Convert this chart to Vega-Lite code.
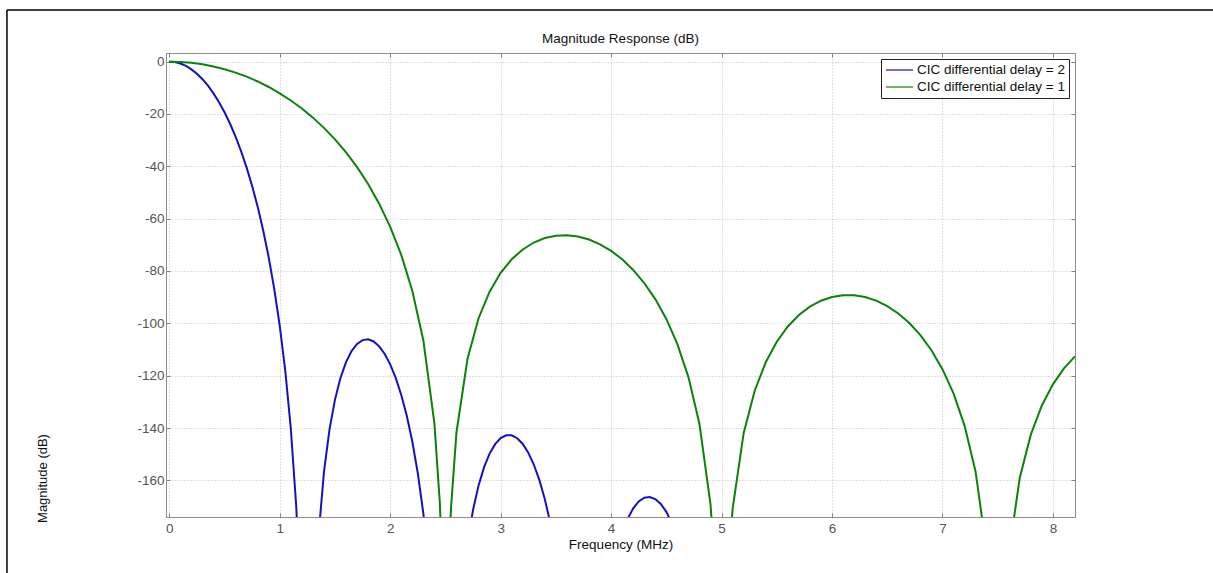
{
  "$schema": "https://vega.github.io/schema/vega-lite/v6.json",
  "width": 909,
  "height": 464,
  "autosize": {"type": "none"},
  "padding": {"left": 166, "top": 53, "right": 138, "bottom": 56},
  "background": "white",
  "config": {
    "font": "Liberation Sans",
    "view": {"stroke": "#8c8c8c", "strokeWidth": 1},
    "legend": {"labelFontSize": 13.5, "labelFont": "Liberation Sans"}
  },
  "title": {"text": "Magnitude Response (dB)", "fontSize": 13.5, "fontWeight": "normal", "color": "#111111", "offset": -36, "anchor": "middle", "font": "Liberation Sans"},
  "datasets": {
    "cic": [
      {"freq": 0, "mag": 0, "series": "CIC differential delay = 2"},
      {"freq": 0.05, "mag": -0.18, "series": "CIC differential delay = 2"},
      {"freq": 0.1, "mag": -0.73, "series": "CIC differential delay = 2"},
      {"freq": 0.15, "mag": -1.65, "series": "CIC differential delay = 2"},
      {"freq": 0.2, "mag": -2.95, "series": "CIC differential delay = 2"},
      {"freq": 0.25, "mag": -4.63, "series": "CIC differential delay = 2"},
      {"freq": 0.3, "mag": -6.71, "series": "CIC differential delay = 2"},
      {"freq": 0.35, "mag": -9.2, "series": "CIC differential delay = 2"},
      {"freq": 0.4, "mag": -12.13, "series": "CIC differential delay = 2"},
      {"freq": 0.45, "mag": -15.5, "series": "CIC differential delay = 2"},
      {"freq": 0.5, "mag": -19.36, "series": "CIC differential delay = 2"},
      {"freq": 0.55, "mag": -23.74, "series": "CIC differential delay = 2"},
      {"freq": 0.6, "mag": -28.68, "series": "CIC differential delay = 2"},
      {"freq": 0.65, "mag": -34.24, "series": "CIC differential delay = 2"},
      {"freq": 0.7, "mag": -40.5, "series": "CIC differential delay = 2"},
      {"freq": 0.75, "mag": -47.54, "series": "CIC differential delay = 2"},
      {"freq": 0.8, "mag": -55.48, "series": "CIC differential delay = 2"},
      {"freq": 0.85, "mag": -64.5, "series": "CIC differential delay = 2"},
      {"freq": 0.9, "mag": -74.83, "series": "CIC differential delay = 2"},
      {"freq": 0.95, "mag": -86.81, "series": "CIC differential delay = 2"},
      {"freq": 1.0, "mag": -100.97, "series": "CIC differential delay = 2"},
      {"freq": 1.05, "mag": -118.18, "series": "CIC differential delay = 2"},
      {"freq": 1.1, "mag": -140.1, "series": "CIC differential delay = 2"},
      {"freq": 1.15, "mag": -170.44, "series": "CIC differential delay = 2"},
      {"freq": 1.2, "mag": -221, "series": "CIC differential delay = 2"},
      {"freq": 1.3, "mag": -226.6, "series": "CIC differential delay = 2"},
      {"freq": 1.35, "mag": -181.58, "series": "CIC differential delay = 2"},
      {"freq": 1.4, "mag": -156.86, "series": "CIC differential delay = 2"},
      {"freq": 1.45, "mag": -140.61, "series": "CIC differential delay = 2"},
      {"freq": 1.5, "mag": -129.14, "series": "CIC differential delay = 2"},
      {"freq": 1.55, "mag": -120.82, "series": "CIC differential delay = 2"},
      {"freq": 1.6, "mag": -114.82, "series": "CIC differential delay = 2"},
      {"freq": 1.65, "mag": -110.59, "series": "CIC differential delay = 2"},
      {"freq": 1.7, "mag": -107.86, "series": "CIC differential delay = 2"},
      {"freq": 1.75, "mag": -106.41, "series": "CIC differential delay = 2"},
      {"freq": 1.8, "mag": -106.12, "series": "CIC differential delay = 2"},
      {"freq": 1.85, "mag": -106.92, "series": "CIC differential delay = 2"},
      {"freq": 1.9, "mag": -108.78, "series": "CIC differential delay = 2"},
      {"freq": 1.95, "mag": -111.69, "series": "CIC differential delay = 2"},
      {"freq": 2.0, "mag": -115.69, "series": "CIC differential delay = 2"},
      {"freq": 2.05, "mag": -120.86, "series": "CIC differential delay = 2"},
      {"freq": 2.1, "mag": -127.35, "series": "CIC differential delay = 2"},
      {"freq": 2.15, "mag": -135.34, "series": "CIC differential delay = 2"},
      {"freq": 2.2, "mag": -145.16, "series": "CIC differential delay = 2"},
      {"freq": 2.25, "mag": -157.31, "series": "CIC differential delay = 2"},
      {"freq": 2.3, "mag": -172.66, "series": "CIC differential delay = 2"},
      {"freq": 2.35, "mag": -192.85, "series": "CIC differential delay = 2"},
      {"freq": 2.4, "mag": -221.57, "series": "CIC differential delay = 2"},
      {"freq": 2.6, "mag": -227.13, "series": "CIC differential delay = 2"},
      {"freq": 2.65, "mag": -201.2, "series": "CIC differential delay = 2"},
      {"freq": 2.7, "mag": -183.8, "series": "CIC differential delay = 2"},
      {"freq": 2.75, "mag": -171.26, "series": "CIC differential delay = 2"},
      {"freq": 2.8, "mag": -161.92, "series": "CIC differential delay = 2"},
      {"freq": 2.85, "mag": -154.93, "series": "CIC differential delay = 2"},
      {"freq": 2.9, "mag": -149.78, "series": "CIC differential delay = 2"},
      {"freq": 2.95, "mag": -146.16, "series": "CIC differential delay = 2"},
      {"freq": 3.0, "mag": -143.86, "series": "CIC differential delay = 2"},
      {"freq": 3.05, "mag": -142.77, "series": "CIC differential delay = 2"},
      {"freq": 3.1, "mag": -142.79, "series": "CIC differential delay = 2"},
      {"freq": 3.15, "mag": -143.9, "series": "CIC differential delay = 2"},
      {"freq": 3.2, "mag": -146.1, "series": "CIC differential delay = 2"},
      {"freq": 3.25, "mag": -149.43, "series": "CIC differential delay = 2"},
      {"freq": 3.3, "mag": -153.95, "series": "CIC differential delay = 2"},
      {"freq": 3.35, "mag": -159.81, "series": "CIC differential delay = 2"},
      {"freq": 3.4, "mag": -167.19, "series": "CIC differential delay = 2"},
      {"freq": 3.45, "mag": -176.42, "series": "CIC differential delay = 2"},
      {"freq": 3.5, "mag": -188.01, "series": "CIC differential delay = 2"},
      {"freq": 3.55, "mag": -202.82, "series": "CIC differential delay = 2"},
      {"freq": 3.6, "mag": -222.49, "series": "CIC differential delay = 2"},
      {"freq": 3.9, "mag": -228.05, "series": "CIC differential delay = 2"},
      {"freq": 3.95, "mag": -210.24, "series": "CIC differential delay = 2"},
      {"freq": 4.0, "mag": -197.29, "series": "CIC differential delay = 2"},
      {"freq": 4.05, "mag": -187.57, "series": "CIC differential delay = 2"},
      {"freq": 4.1, "mag": -180.2, "series": "CIC differential delay = 2"},
      {"freq": 4.15, "mag": -174.69, "series": "CIC differential delay = 2"},
      {"freq": 4.2, "mag": -170.7, "series": "CIC differential delay = 2"},
      {"freq": 4.25, "mag": -168.06, "series": "CIC differential delay = 2"},
      {"freq": 4.3, "mag": -166.63, "series": "CIC differential delay = 2"},
      {"freq": 4.35, "mag": -166.34, "series": "CIC differential delay = 2"},
      {"freq": 4.4, "mag": -167.13, "series": "CIC differential delay = 2"},
      {"freq": 4.45, "mag": -169.02, "series": "CIC differential delay = 2"},
      {"freq": 4.5, "mag": -172.04, "series": "CIC differential delay = 2"},
      {"freq": 4.55, "mag": -176.27, "series": "CIC differential delay = 2"},
      {"freq": 4.6, "mag": -181.84, "series": "CIC differential delay = 2"},
      {"freq": 0, "mag": 0, "series": "CIC differential delay = 1"},
      {"freq": 0.1, "mag": -0.11, "series": "CIC differential delay = 1"},
      {"freq": 0.2, "mag": -0.46, "series": "CIC differential delay = 1"},
      {"freq": 0.3, "mag": -1.03, "series": "CIC differential delay = 1"},
      {"freq": 0.4, "mag": -1.84, "series": "CIC differential delay = 1"},
      {"freq": 0.5, "mag": -2.9, "series": "CIC differential delay = 1"},
      {"freq": 0.6, "mag": -4.2, "series": "CIC differential delay = 1"},
      {"freq": 0.7, "mag": -5.75, "series": "CIC differential delay = 1"},
      {"freq": 0.8, "mag": -7.58, "series": "CIC differential delay = 1"},
      {"freq": 0.9, "mag": -9.69, "series": "CIC differential delay = 1"},
      {"freq": 1.0, "mag": -12.1, "series": "CIC differential delay = 1"},
      {"freq": 1.1, "mag": -14.84, "series": "CIC differential delay = 1"},
      {"freq": 1.2, "mag": -17.92, "series": "CIC differential delay = 1"},
      {"freq": 1.3, "mag": -21.4, "series": "CIC differential delay = 1"},
      {"freq": 1.4, "mag": -25.31, "series": "CIC differential delay = 1"},
      {"freq": 1.5, "mag": -29.71, "series": "CIC differential delay = 1"},
      {"freq": 1.6, "mag": -34.68, "series": "CIC differential delay = 1"},
      {"freq": 1.7, "mag": -40.32, "series": "CIC differential delay = 1"},
      {"freq": 1.8, "mag": -46.77, "series": "CIC differential delay = 1"},
      {"freq": 1.9, "mag": -54.26, "series": "CIC differential delay = 1"},
      {"freq": 2.0, "mag": -63.11, "series": "CIC differential delay = 1"},
      {"freq": 2.1, "mag": -73.86, "series": "CIC differential delay = 1"},
      {"freq": 2.2, "mag": -87.57, "series": "CIC differential delay = 1"},
      {"freq": 2.3, "mag": -106.53, "series": "CIC differential delay = 1"},
      {"freq": 2.4, "mag": -138.14, "series": "CIC differential delay = 1"},
      {"freq": 2.45, "mag": -169.05, "series": "CIC differential delay = 1"},
      {"freq": 2.475, "mag": -199.57, "series": "CIC differential delay = 1"},
      {"freq": 2.525, "mag": -200.44, "series": "CIC differential delay = 1"},
      {"freq": 2.55, "mag": -170.79, "series": "CIC differential delay = 1"},
      {"freq": 2.6, "mag": -141.61, "series": "CIC differential delay = 1"},
      {"freq": 2.7, "mag": -113.49, "series": "CIC differential delay = 1"},
      {"freq": 2.8, "mag": -98.04, "series": "CIC differential delay = 1"},
      {"freq": 2.9, "mag": -87.88, "series": "CIC differential delay = 1"},
      {"freq": 3.0, "mag": -80.71, "series": "CIC differential delay = 1"},
      {"freq": 3.1, "mag": -75.52, "series": "CIC differential delay = 1"},
      {"freq": 3.2, "mag": -71.76, "series": "CIC differential delay = 1"},
      {"freq": 3.3, "mag": -69.12, "series": "CIC differential delay = 1"},
      {"freq": 3.4, "mag": -67.41, "series": "CIC differential delay = 1"},
      {"freq": 3.5, "mag": -66.51, "series": "CIC differential delay = 1"},
      {"freq": 3.6, "mag": -66.33, "series": "CIC differential delay = 1"},
      {"freq": 3.7, "mag": -66.83, "series": "CIC differential delay = 1"},
      {"freq": 3.8, "mag": -67.99, "series": "CIC differential delay = 1"},
      {"freq": 3.9, "mag": -69.81, "series": "CIC differential delay = 1"},
      {"freq": 4.0, "mag": -72.31, "series": "CIC differential delay = 1"},
      {"freq": 4.1, "mag": -75.54, "series": "CIC differential delay = 1"},
      {"freq": 4.2, "mag": -79.6, "series": "CIC differential delay = 1"},
      {"freq": 4.3, "mag": -84.59, "series": "CIC differential delay = 1"},
      {"freq": 4.4, "mag": -90.73, "series": "CIC differential delay = 1"},
      {"freq": 4.5, "mag": -98.32, "series": "CIC differential delay = 1"},
      {"freq": 4.6, "mag": -107.92, "series": "CIC differential delay = 1"},
      {"freq": 4.7, "mag": -120.53, "series": "CIC differential delay = 1"},
      {"freq": 4.8, "mag": -138.48, "series": "CIC differential delay = 1"},
      {"freq": 4.9, "mag": -169.14, "series": "CIC differential delay = 1"},
      {"freq": 4.95, "mag": -199.6, "series": "CIC differential delay = 1"},
      {"freq": 5.05, "mag": -200.46, "series": "CIC differential delay = 1"},
      {"freq": 5.1, "mag": -170.88, "series": "CIC differential delay = 1"},
      {"freq": 5.2, "mag": -141.96, "series": "CIC differential delay = 1"},
      {"freq": 5.3, "mag": -125.75, "series": "CIC differential delay = 1"},
      {"freq": 5.4, "mag": -114.88, "series": "CIC differential delay = 1"},
      {"freq": 5.5, "mag": -107.04, "series": "CIC differential delay = 1"},
      {"freq": 5.6, "mag": -101.2, "series": "CIC differential delay = 1"},
      {"freq": 5.7, "mag": -96.83, "series": "CIC differential delay = 1"},
      {"freq": 5.8, "mag": -93.62, "series": "CIC differential delay = 1"},
      {"freq": 5.9, "mag": -91.35, "series": "CIC differential delay = 1"},
      {"freq": 6.0, "mag": -89.92, "series": "CIC differential delay = 1"},
      {"freq": 6.1, "mag": -89.23, "series": "CIC differential delay = 1"},
      {"freq": 6.2, "mag": -89.25, "series": "CIC differential delay = 1"},
      {"freq": 6.3, "mag": -89.94, "series": "CIC differential delay = 1"},
      {"freq": 6.4, "mag": -91.32, "series": "CIC differential delay = 1"},
      {"freq": 6.5, "mag": -93.4, "series": "CIC differential delay = 1"},
      {"freq": 6.6, "mag": -96.22, "series": "CIC differential delay = 1"},
      {"freq": 6.7, "mag": -99.88, "series": "CIC differential delay = 1"},
      {"freq": 6.8, "mag": -104.5, "series": "CIC differential delay = 1"},
      {"freq": 6.9, "mag": -110.27, "series": "CIC differential delay = 1"},
      {"freq": 7.0, "mag": -117.51, "series": "CIC differential delay = 1"},
      {"freq": 7.1, "mag": -126.77, "series": "CIC differential delay = 1"},
      {"freq": 7.2, "mag": -139.06, "series": "CIC differential delay = 1"},
      {"freq": 7.3, "mag": -156.69, "series": "CIC differential delay = 1"},
      {"freq": 7.4, "mag": -187.04, "series": "CIC differential delay = 1"},
      {"freq": 7.6, "mag": -188.2, "series": "CIC differential delay = 1"},
      {"freq": 7.7, "mag": -159.01, "series": "CIC differential delay = 1"},
      {"freq": 7.8, "mag": -142.53, "series": "CIC differential delay = 1"},
      {"freq": 7.9, "mag": -131.4, "series": "CIC differential delay = 1"},
      {"freq": 8.0, "mag": -123.31, "series": "CIC differential delay = 1"},
      {"freq": 8.1, "mag": -117.23, "series": "CIC differential delay = 1"},
      {"freq": 8.2, "mag": -112.63, "series": "CIC differential delay = 1"}
    ]
  },
  "resolve": {"axis": {"x": "independent", "y": "independent"}},
  "layer": [
    {
      "data": {"values": [{}]},
      "mark": {"type": "rule", "color": "black", "strokeWidth": 1.5, "clip": false},
      "encoding": {
        "x": {"datum": -1.47, "type": "quantitative", "scale": {"domain": [-0.03, 8.2], "nice": false, "zero": false}, "axis": null},
        "y": {"datum": 19.73, "type": "quantitative", "scale": {"domain": [-174, 3.3], "nice": false, "zero": false}, "axis": null},
        "y2": {"datum": -210}
      }
    },
    {
      "data": {"values": [{}]},
      "mark": {"type": "rule", "color": "black", "strokeWidth": 1.5, "clip": false},
      "encoding": {
        "x": {"datum": -1.47, "type": "quantitative", "scale": {"domain": [-0.03, 8.2], "nice": false, "zero": false}, "axis": null},
        "x2": {"datum": 9.49},
        "y": {"datum": 19.73, "type": "quantitative", "scale": {"domain": [-174, 3.3], "nice": false, "zero": false}, "axis": null}
      }
    },
    {
      "data": {"name": "cic"},
      "mark": {"type": "line", "strokeWidth": 2, "clip": true},
      "encoding": {
        "x": {
          "field": "freq", "type": "quantitative",
          "scale": {"domain": [-0.03, 8.2], "nice": false, "zero": false},
          "axis": {"orient": "bottom", "values": [0, 1, 2, 3, 4, 5, 6, 7, 8], "grid": true, "gridColor": "#c0c0c0", "gridDash": [1, 2], "gridWidth": 1, "domain": false, "ticks": true, "tickSize": -4, "tickColor": "#808080", "labelColor": "#555555", "labelFontSize": 13.5, "labelPadding": 8, "labelFont": "Liberation Sans", "title": "Frequency (MHz)", "titleFontSize": 13.5, "titleFontWeight": "normal", "titleColor": "#111111", "titleFont": "Liberation Sans", "titleY": 27, "titleBaseline": "middle"}
        },
        "y": {
          "field": "mag", "type": "quantitative",
          "scale": {"domain": [-174, 3.3], "nice": false, "zero": false},
          "axis": {"orient": "left", "values": [-160, -140, -120, -100, -80, -60, -40, -20, 0], "labelExpr": "replace(datum.label, '\u2212', '-')", "grid": true, "gridColor": "#c0c0c0", "gridDash": [1, 2], "gridWidth": 1, "domain": false, "ticks": true, "tickSize": -4, "tickColor": "#808080", "labelColor": "#555555", "labelFontSize": 13.5, "labelPadding": 6, "labelFont": "Liberation Sans", "title": "Magnitude (dB)", "titleFontSize": 13, "titleFontWeight": "normal", "titleColor": "#111111", "titleFont": "Liberation Sans", "titleX": -124, "titleY": 425, "titleAlign": "center", "titleBaseline": "middle", "titleAngle": -90}
        },
        "color": {
          "field": "series", "type": "nominal",
          "scale": {"domain": ["CIC differential delay = 2", "CIC differential delay = 1"], "range": ["#1212c0", "#0d800d"]},
          "legend": {"orient": "top-right", "offset": 6, "title": null, "labelFontSize": 13.5, "labelFont": "Liberation Sans", "labelColor": "#111111", "symbolType": "M-1,0H3.5", "symbolSize": 144, "symbolStrokeWidth": 1.2, "symbolFillColor": "transparent", "fillColor": "white", "strokeColor": "#222222", "padding": 4, "rowPadding": 3, "labelOffset": 18, "cornerRadius": 0, "labelLimit": 300}
        }
      }
    },
    {
      "data": {"name": "cic"},
      "mark": {"type": "line", "opacity": 0, "clip": true},
      "encoding": {
        "x": {
          "field": "freq", "type": "quantitative",
          "scale": {"domain": [-0.03, 8.2], "nice": false, "zero": false},
          "axis": {"orient": "top", "values": [0, 1, 2, 3, 4, 5, 6, 7, 8], "grid": false, "domain": false, "labels": false, "ticks": true, "tickSize": -4, "tickColor": "#808080", "title": null}
        },
        "y": {
          "field": "mag", "type": "quantitative",
          "scale": {"domain": [-174, 3.3], "nice": false, "zero": false},
          "axis": {"orient": "right", "values": [-160, -140, -120, -100, -80, -60, -40, -20, 0], "grid": false, "domain": false, "labels": false, "ticks": true, "tickSize": -4, "tickColor": "#808080", "title": null}
        },
        "detail": {"field": "series"}
      }
    }
  ]
}
